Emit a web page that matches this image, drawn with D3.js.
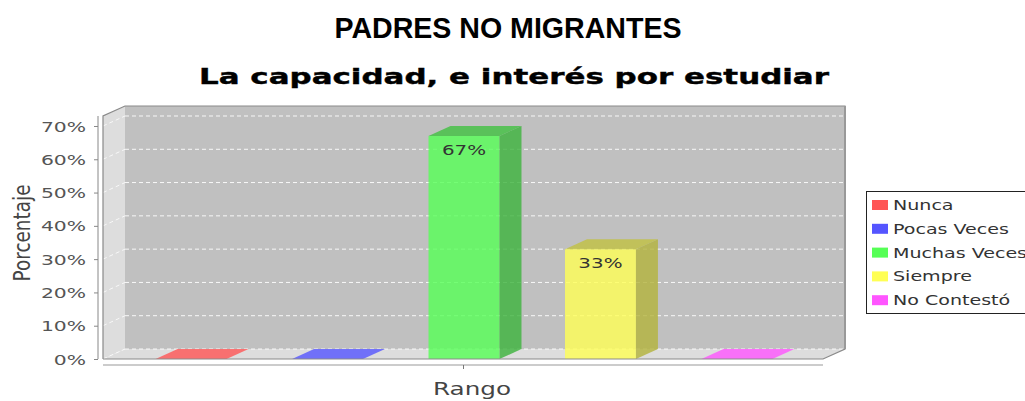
<!DOCTYPE html>
<html>
<head>
<meta charset="utf-8">
<script src="https://cdn.jsdelivr.net/npm/d3@7"></script>
<style>
  html, body { margin: 0; padding: 0; background: #fff; }
  svg { display: block; }
</style>
</head>
<body>
<svg id="chart" width="1025" height="401"></svg>
<script>
// Data
const seriesNames = ["Nunca", "Pocas Veces", "Muchas Veces", "Siempre", "No Contestó"];
const seriesValues = [0, 0, 67, 33, 0];
const seriesColors = ["#FF5555", "#5555FF", "#55FF55", "#FFFF55", "#FF55FF"];
const yTicks = [0, 10, 20, 30, 40, 50, 60, 70];
const categoryLabel = "Rango";
const valueLabel = "Porcentaje";
const title = "PADRES NO MIGRANTES";
const subtitle = "La capacidad, e interés por estudiar";

const svg = d3.select("#chart");

// Geometry of the 3D plot
const plot = { left: 103, right: 823, top: 116, bottom: 359 };
const depth = { dx: 22, dy: 10 };
const wallColor = "#C0C0C0";
const sideWallColor = "#DDDDDD";
const frameColor = "#8a8a8a";

const y = d3.scaleLinear().domain([0, 73]).range([plot.bottom, plot.top]);
const x = d3.scaleBand().domain(seriesNames).range([104, 824])
  .paddingInner(0.48).paddingOuter(0.378);

// widen text horizontally by factor k (the chart fonts are stretched)
function stretch(sel, k) {
  sel.each(function () {
    const w = this.getComputedTextLength();
    d3.select(this).attr("textLength", w * k).attr("lengthAdjust", "spacingAndGlyphs");
  });
}

const poly = pts => "M" + pts.map(p => p.join(",")).join("L") + "Z";

// Back wall
svg.append("rect")
  .attr("x", plot.left + depth.dx).attr("y", plot.top - depth.dy)
  .attr("width", plot.right - plot.left).attr("height", plot.bottom - plot.top)
  .attr("fill", wallColor);

// Left wall
svg.append("path")
  .attr("d", poly([[plot.left, plot.top], [plot.left + depth.dx, plot.top - depth.dy],
                   [plot.left + depth.dx, plot.bottom - depth.dy], [plot.left, plot.bottom]]))
  .attr("fill", sideWallColor);

// Floor
svg.append("path")
  .attr("d", poly([[plot.left, plot.bottom], [plot.left + depth.dx, plot.bottom - depth.dy],
                   [plot.right + depth.dx, plot.bottom - depth.dy], [plot.right, plot.bottom]]))
  .attr("fill", sideWallColor);

// Gridlines on the back wall and left wall
const grid = svg.append("g");
grid.selectAll("line.back").data(yTicks).join("line")
  .attr("class", "back")
  .attr("x1", plot.left + depth.dx).attr("x2", plot.right + depth.dx)
  .attr("y1", d => y(d) - depth.dy).attr("y2", d => y(d) - depth.dy)
  .attr("stroke", "#fff").attr("stroke-width", 1).attr("stroke-dasharray", "4,3")
  .attr("opacity", 0.9);
grid.selectAll("line.side").data(yTicks).join("line")
  .attr("class", "side")
  .attr("x1", plot.left).attr("x2", plot.left + depth.dx)
  .attr("y1", d => y(d)).attr("y2", d => y(d) - depth.dy)
  .attr("stroke", "#fff").attr("stroke-width", 1).attr("stroke-dasharray", "4,3")
  .attr("opacity", 0.8);

// Bars
const bars = svg.append("g");
seriesNames.forEach((name, i) => {
  const v = seriesValues[i];
  const base = d3.color(seriesColors[i]);
  const x0 = x(name), w = x.bandwidth(), x1 = x0 + w;
  const yTop = y(v), y0 = y(0);
  const g = bars.append("g").attr("fill-opacity", 0.8);
  if (v > 0) {
    // front face
    g.append("rect").attr("x", x0).attr("y", yTop).attr("width", w).attr("height", y0 - yTop)
      .attr("fill", base.formatHex());
    // side face
    g.append("path")
      .attr("d", poly([[x1, yTop], [x1 + depth.dx, yTop - depth.dy], [x1 + depth.dx, y0 - depth.dy], [x1, y0]]))
      .attr("fill", base.darker(1).formatHex());
    // top face
    g.append("path")
      .attr("d", poly([[x0, yTop], [x0 + depth.dx, yTop - depth.dy], [x1 + depth.dx, yTop - depth.dy], [x1, yTop]]))
      .attr("fill", base.darker(0.8).formatHex());
  } else {
    g.append("path")
      .attr("d", poly([[x0, y0], [x0 + depth.dx, y0 - depth.dy], [x1 + depth.dx, y0 - depth.dy], [x1, y0]]))
      .attr("fill", base.formatHex());
  }
});

// Value labels inside bar tops
const labels = svg.append("g");
seriesNames.forEach((name, i) => {
  const v = seriesValues[i];
  if (v <= 0) return;
  labels.append("text")
    .attr("x", x(name) + x.bandwidth() / 2)
    .attr("y", y(v) + 19)
    .attr("text-anchor", "middle")
    .attr("font-family", "DejaVu Sans").attr("font-size", 14)
    .attr("fill", "#333")
    .text(v + "%")
    .call(stretch, 1.42);
});

// Plot frame
svg.append("path")
  .attr("d", "M" + [[plot.left, plot.bottom], [plot.left, plot.top], [plot.left + depth.dx, plot.top - depth.dy],
                    [plot.right + depth.dx, plot.top - depth.dy], [plot.right + depth.dx, plot.bottom - depth.dy],
                    [plot.right, plot.bottom], [plot.left, plot.bottom]].map(p => p.join(",")).join("L"))
  .attr("fill", "none").attr("stroke", frameColor).attr("stroke-width", 1.2);
svg.append("line")
  .attr("x1", plot.right + depth.dx).attr("x2", plot.right + depth.dx)
  .attr("y1", plot.top - depth.dy).attr("y2", plot.bottom - depth.dy)
  .attr("stroke", "#999").attr("stroke-width", 2);

// Value axis
const yAxis = svg.append("g").attr("transform", "translate(98,0)")
  .call(d3.axisLeft(y).tickValues(yTicks).tickFormat(d => d + "%").tickSize(4).tickPadding(8));
yAxis.select(".domain").attr("stroke", "#888").attr("d", `M0,${plot.top}V${plot.bottom}`);
yAxis.selectAll(".tick line").attr("stroke", "#888");
yAxis.selectAll(".tick text")
  .attr("font-family", "DejaVu Sans").attr("font-size", 14).attr("fill", "#555")
  .attr("dy", "0.36em")
  .call(stretch, 1.45);

// Category axis (single category)
const cx = d3.scalePoint().domain([categoryLabel]).range([plot.left, plot.right]).padding(0.5);
const xAxis = svg.append("g").attr("transform", `translate(0,${plot.bottom + 6})`)
  .call(d3.axisBottom(cx).tickSize(4).tickFormat(""));
xAxis.select(".domain").attr("stroke", "#999").attr("d", `M${plot.left},0H${plot.right}`);
xAxis.selectAll(".tick line").attr("stroke", "#777");

// Axis titles
svg.append("text")
  .attr("x", cx(categoryLabel) + 9).attr("y", 395)
  .attr("text-anchor", "middle")
  .attr("font-family", "DejaVu Sans").attr("font-size", 18).attr("fill", "#444")
  .text(categoryLabel)
  .call(stretch, 1.37);

svg.append("text")
  .attr("transform", "translate(30,233) rotate(-90)")
  .attr("text-anchor", "middle")
  .attr("font-family", "DejaVu Sans").attr("font-size", 23).attr("fill", "#444")
  .attr("textLength", 97).attr("lengthAdjust", "spacingAndGlyphs")
  .text(valueLabel);

// Titles
svg.append("text")
  .attr("x", 508).attr("y", 38)
  .attr("text-anchor", "middle")
  .attr("font-family", "Liberation Sans").attr("font-weight", "bold").attr("font-size", 29)
  .attr("fill", "#000")
  .attr("textLength", 347).attr("lengthAdjust", "spacingAndGlyphs")
  .text(title);

svg.append("text")
  .attr("x", 514).attr("y", 84)
  .attr("text-anchor", "middle")
  .attr("font-family", "DejaVu Sans").attr("font-weight", "bold").attr("font-size", 22)
  .attr("fill", "#000").attr("stroke", "#000").attr("stroke-width", 0.4)
  .attr("textLength", 630).attr("lengthAdjust", "spacingAndGlyphs")
  .text(subtitle);

// Legend
const legend = svg.append("g");
legend.append("rect")
  .attr("x", 866.5).attr("y", 191.5).attr("width", 170).attr("height", 122)
  .attr("fill", "#fff").attr("stroke", "#222").attr("stroke-width", 1);
seriesNames.forEach((name, i) => {
  const cy = 205 + i * 23.8;
  legend.append("rect")
    .attr("x", 872).attr("y", cy - 5).attr("width", 16).attr("height", 10)
    .attr("fill", seriesColors[i]);
  legend.append("text")
    .attr("x", 893).attr("y", cy).attr("dy", "0.36em")
    .attr("font-family", "DejaVu Sans").attr("font-size", 14).attr("fill", "#333")
    .text(name)
    .call(stretch, 1.36);
});
</script>
</body>
</html>
